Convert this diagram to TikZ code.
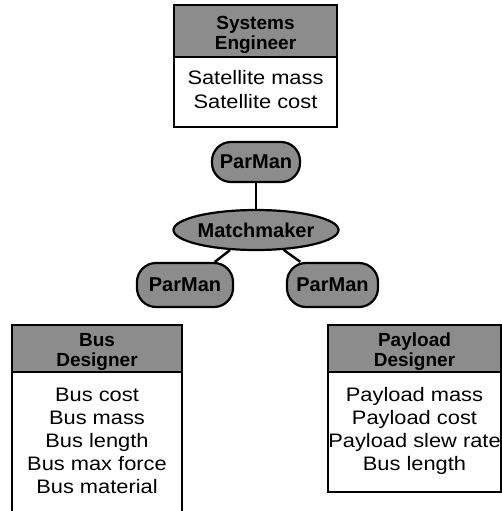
\documentclass[tikz,border=0pt]{standalone}
\usepackage{fontspec}
\setmainfont[FakeStretch=1.12]{Liberation Sans}
\newfontfamily\hdfont{Liberation Sans}
\usetikzlibrary{shapes.geometric}
\tikzset{
  hdrbox/.style={draw, line width=1.8pt, fill=black!45, inner sep=0pt},
  bodybox/.style={draw, line width=1.8pt, fill=white, inner sep=0pt},
  hdrtxt/.style={anchor=base, inner sep=0pt, font=\hdfont\bfseries\fontsize{19}{20}\selectfont},
  bodytxt/.style={anchor=base, inner sep=0pt, font=\fontsize{19.5}{23}\selectfont},
  agent/.style={draw, line width=2.2pt, fill=black!45, rounded corners=19pt, inner sep=0pt,
    font=\hdfont\bfseries\fontsize{20}{22}\selectfont},
  mm/.style={draw, line width=2.2pt, fill=black!45, ellipse, inner sep=0pt,
    font=\hdfont\bfseries\fontsize{20}{22}\selectfont},
  link/.style={line width=2.4pt}
}
\begin{document}
\begin{tikzpicture}[x=1pt,y=-1pt]
\useasboundingbox (0,0) rectangle (502,511);
% Systems Engineer box
\node[bodybox, minimum width=163pt, minimum height=70pt] (seB) at (255.5,92) {};
\node[hdrbox, minimum width=163pt, minimum height=52pt] (seH) at (255.5,31) {};
\node[hdrtxt] (seH1) at (255.5,30) {Systems};
\node[hdrtxt] (seH2) at (255.5,50) {Engineer};
\node[bodytxt] (se1) at (255.5,84.5) {Satellite mass};
\node[bodytxt] (se2) at (255.5,108) {Satellite cost};
% Bus Designer box
\node[bodybox, minimum width=170pt, minimum height=140pt] (bdB) at (97,442) {};
\node[hdrbox, minimum width=170pt, minimum height=47pt] (bdH) at (97,348.5) {};
\node[hdrtxt] (bdH1) at (97,346) {Bus};
\node[hdrtxt] (bdH2) at (97,366) {Designer};
\node[bodytxt] (bd1) at (97,401) {Bus cost};
\node[bodytxt] (bd2) at (97,424) {Bus mass};
\node[bodytxt] (bd3) at (97,447) {Bus length};
\node[bodytxt] (bd4) at (97,470) {Bus max force};
\node[bodytxt] (bd5) at (97,493) {Bus material};
% Payload Designer box
\node[bodybox, minimum width=173pt, minimum height=120pt] (pdB) at (414.5,432) {};
\node[hdrbox, minimum width=173pt, minimum height=47pt] (pdH) at (414.5,348.5) {};
\node[hdrtxt] (pdH1) at (414.5,346) {Payload};
\node[hdrtxt] (pdH2) at (414.5,366) {Designer};
\node[bodytxt] (pd1) at (414.5,401) {Payload mass};
\node[bodytxt] (pd2) at (414.5,424) {Payload cost};
\node[bodytxt] (pd3) at (414.5,447) {Payload slew rate};
\node[bodytxt] (pd4) at (414.5,470) {Bus length};
% ParMan / Matchmaker
\node[agent, minimum width=88pt, minimum height=40pt] (pmT) at (256,162) {ParMan};
\node[mm, minimum width=136pt, minimum height=40pt] (mm) at (256,230) {Matchmaker};
\node[agent, minimum width=96pt, minimum height=44pt] (pmL) at (185,285) {ParMan};
\node[agent, minimum width=91pt, minimum height=44pt] (pmR) at (332.5,285) {ParMan};
\begin{scope}[on background layer/.try]
\end{scope}
\draw[link] (pmT) -- (mm);
\draw[link] (mm) -- (pmL);
\draw[link] (mm) -- (pmR);
\end{tikzpicture}
\end{document}
